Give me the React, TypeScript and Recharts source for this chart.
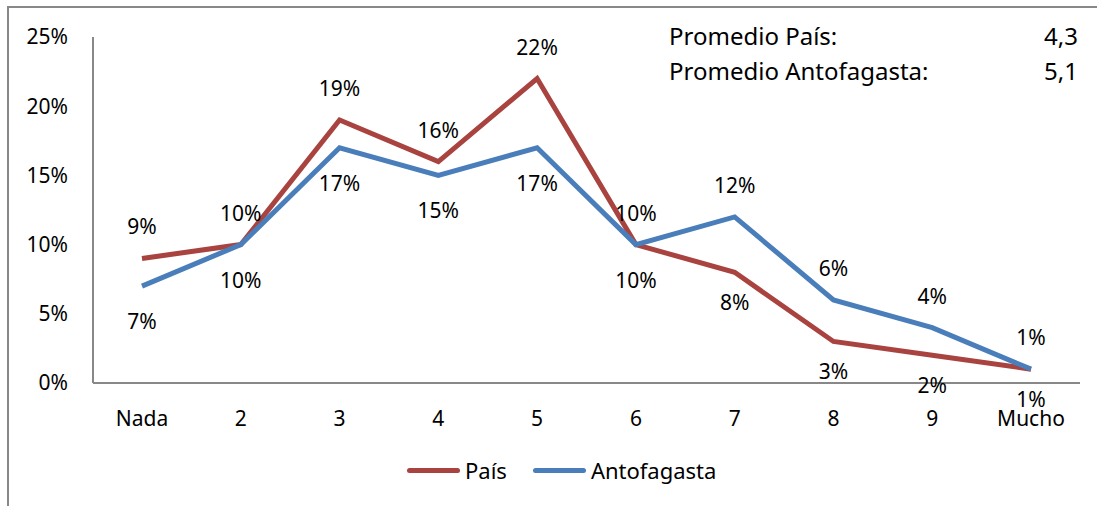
import { LineChart, Line, XAxis, YAxis, Legend, LabelList } from "recharts";

const categories = ["Nada", "2", "3", "4", "5", "6", "7", "8", "9", "Mucho"];
const pais = [9, 10, 19, 16, 22, 10, 8, 3, 2, 1];
const antofagasta = [7, 10, 17, 15, 17, 10, 12, 6, 4, 1];
const yTicks = [0, 5, 10, 15, 20, 25];
const seriesNames = ["País", "Antofagasta"];
const promedios = [
  { label: "Promedio País:", value: "4,3" },
  { label: "Promedio Antofagasta:", value: "5,1" },
];

const FONT = "'Noto Sans', 'Open Sans', sans-serif";
const RED = "#A9433F";
const BLUE = "#4A7EBB";
const AXIS = "#888888";

const data = categories.map((c, i) => ({
  cat: c,
  pais: pais[i],
  anto: antofagasta[i],
}));

// País label goes above when País is higher (ties decided by the previous point)
function paisAbove(i: number) {
  const d = pais[i] - antofagasta[i];
  if (d !== 0) return d > 0;
  if (i === 0) return true;
  return pais[i - 1] - antofagasta[i - 1] > 0;
}

function makeLabel(series: "pais" | "anto") {
  return (props: any) => {
    const { x, y, value, index } = props;
    const up = series === "pais" ? paisAbove(index) : !paisAbove(index);
    const dy = up ? -32 : series === "pais" ? 30 : 35;
    return (
      <text
        x={x}
        y={y + dy}
        textAnchor="middle"
        dominantBaseline="central"
        fontFamily={FONT}
        fontSize={21}
        fill="#000"
      >
        {value}%
      </text>
    );
  };
}

function LegendContent(props: any) {
  const items = [...(props.payload || [])].sort(
    (a: any, b: any) => seriesNames.indexOf(a.value) - seriesNames.indexOf(b.value)
  );
  return (
    <div style={{ display: "flex", alignItems: "center", fontFamily: FONT, fontSize: 22 }}>
      {items.map((it: any, i: number) => (
        <div key={i} style={{ display: "flex", alignItems: "center", marginRight: 26 }}>
          <div
            style={{
              width: 53,
              height: 5,
              borderRadius: 3,
              background: it.color,
              marginRight: 5,
            }}
          />
          <span style={{ color: "#000" }}>{it.value}</span>
        </div>
      ))}
    </div>
  );
}

export default function App() {
  return (
    <div style={{ position: "fixed", left: 0, top: 0, width: 1097, height: 506, background: "#fff" }}>
      {/* chart frame, cut off at the right and bottom */}
      <div
        style={{
          position: "absolute",
          left: 7,
          top: 6,
          width: 1200,
          height: 600,
          borderTop: `2px solid ${AXIS}`,
          borderLeft: `2px solid ${AXIS}`,
        }}
      />
      <LineChart
        width={1097}
        height={506}
        data={data}
        margin={{ top: 37, right: 17, bottom: 83, left: 33 }}
        style={{ position: "absolute", left: 0, top: 0 }}
      >
        <XAxis
          dataKey="cat"
          interval={0}
          padding={{ left: 49, right: 49 }}
          tickLine={false}
          tickSize={0}
          tickMargin={28}
          height={40}
          stroke={AXIS}
          strokeWidth={2}
          tick={{ fill: "#000", fontSize: 21, fontFamily: FONT }}
        />
        <YAxis
          domain={[0, 25]}
          ticks={yTicks}
          interval={0}
          width={60}
          tickLine={false}
          tickSize={0}
          tickMargin={25}
          stroke={AXIS}
          strokeWidth={2}
          tickFormatter={(v) => `${v}%`}
          tick={{ fill: "#000", fontSize: 21, fontFamily: FONT }}
        />
        <Legend
          layout="horizontal"
          verticalAlign="middle"
          align="center"
          content={<LegendContent />}
          wrapperStyle={{ left: 407, top: 455, width: "auto" }}
        />
        <Line
          dataKey="pais"
          name="País"
          stroke={RED}
          strokeWidth={5}
          dot={false}
          activeDot={false}
          isAnimationActive={false}
        >
          <LabelList dataKey="pais" content={makeLabel("pais")} />
        </Line>
        <Line
          dataKey="anto"
          name="Antofagasta"
          stroke={BLUE}
          strokeWidth={5}
          dot={false}
          activeDot={false}
          isAnimationActive={false}
        >
          <LabelList dataKey="anto" content={makeLabel("anto")} />
        </Line>
      </LineChart>
      {promedios.map((p, i) => (
        <div
          key={p.label}
          style={{
            position: "absolute",
            left: 669,
            top: 19 + i * 35,
            width: 409,
            display: "flex",
            justifyContent: "space-between",
            fontFamily: FONT,
            fontSize: 24,
            lineHeight: "34px",
            color: "#000",
          }}
        >
          <span>{p.label}</span>
          <span>{p.value}</span>
        </div>
      ))}
    </div>
  );
}
